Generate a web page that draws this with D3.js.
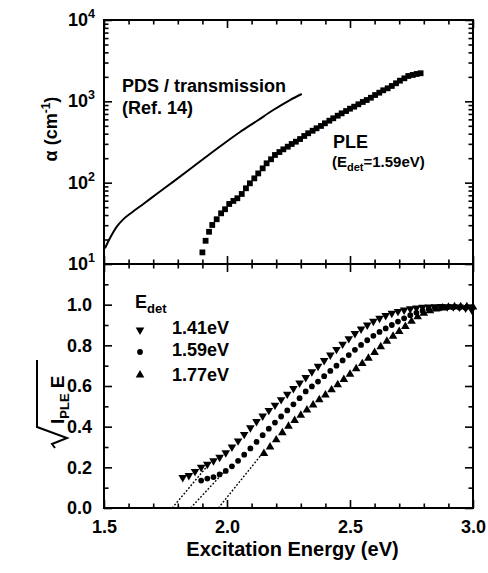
<!DOCTYPE html>
<html>
<head>
<meta charset="utf-8">
<script src="https://cdn.jsdelivr.net/npm/d3@7"></script>
<style>
  body { margin: 0; background: #fff; }
  text { font-family: "Liberation Sans", Arial, Helvetica, sans-serif; font-weight: bold; fill: #000; }
</style>
</head>
<body>
<svg id="chart" width="488" height="573"></svg>
<script>
// PDS / transmission (Ref. 14): [energy eV, alpha cm^-1]
const pdsCurve = [
  [1.504, 15.6], [1.524, 20.7], [1.552, 28.8], [1.578, 35.4], [1.613, 43],
  [1.66, 54.7], [1.714, 72.6], [1.782, 103], [1.85, 147], [1.917, 210],
  [1.985, 299], [2.053, 420], [2.121, 573], [2.188, 782], [2.256, 1038], [2.304, 1230]
];

// PLE absorption, E_det = 1.59 eV
const pleAlpha = [
  [1.900, 13.9], [1.913, 19.3], [1.927, 24.9], [1.940, 30.2], [1.958, 35.5], [1.976, 42.0],
  [1.992, 47.1], [2.009, 54.7], [2.026, 59.6], [2.042, 64.3], [2.060, 72.6], [2.077, 85.3],
  [2.093, 98.2], [2.111, 113], [2.127, 130], [2.145, 150], [2.161, 173], [2.179, 194],
  [2.195, 219], [2.213, 238], [2.229, 257], [2.247, 277], [2.263, 299], [2.280, 319],
  [2.297, 344], [2.314, 375], [2.330, 405], [2.348, 435], [2.364, 466], [2.382, 498],
  [2.398, 537], [2.416, 578], [2.432, 619], [2.450, 666], [2.466, 712], [2.484, 760],
  [2.500, 812], [2.517, 860], [2.534, 920], [2.552, 982], [2.568, 1038], [2.585, 1108],
  [2.602, 1196], [2.619, 1277], [2.635, 1367], [2.653, 1446], [2.670, 1545], [2.687, 1667],
  [2.703, 1795], [2.721, 1920], [2.737, 2050], [2.755, 2110], [2.771, 2170], [2.787, 2215]
];

// sqrt(I_PLE E) for three detection energies
const det141 = [
  [1.82, 0.150], [1.845, 0.160], [1.87, 0.180], [1.895, 0.200], [1.92, 0.215], [1.945, 0.232],
  [1.97, 0.250], [1.995, 0.272], [2.02, 0.300], [2.045, 0.330], [2.07, 0.362], [2.095, 0.395],
  [2.12, 0.425], [2.145, 0.452], [2.17, 0.480], [2.195, 0.506], [2.22, 0.533], [2.245, 0.560],
  [2.27, 0.588], [2.295, 0.615], [2.32, 0.642], [2.345, 0.670], [2.37, 0.697], [2.395, 0.725],
  [2.42, 0.752], [2.445, 0.780], [2.47, 0.806], [2.495, 0.833], [2.52, 0.858], [2.545, 0.880],
  [2.57, 0.900], [2.595, 0.918], [2.62, 0.933], [2.645, 0.947], [2.67, 0.958], [2.695, 0.967],
  [2.72, 0.974], [2.745, 0.980], [2.77, 0.984], [2.795, 0.987], [2.82, 0.989], [2.845, 0.990],
  [2.87, 0.991], [2.895, 0.990], [2.92, 0.990], [2.945, 0.988], [2.97, 0.984], [2.995, 0.975]
];
const det159 = [
  [1.895, 0.135], [1.92, 0.145], [1.945, 0.152], [1.97, 0.165], [1.995, 0.182], [2.02, 0.205],
  [2.045, 0.232], [2.07, 0.262], [2.095, 0.293], [2.12, 0.325], [2.145, 0.358], [2.17, 0.390],
  [2.195, 0.420], [2.22, 0.450], [2.245, 0.480], [2.27, 0.510], [2.295, 0.540], [2.32, 0.573],
  [2.345, 0.598], [2.37, 0.622], [2.395, 0.648], [2.42, 0.674], [2.445, 0.700], [2.47, 0.726],
  [2.495, 0.752], [2.52, 0.778], [2.545, 0.802], [2.57, 0.825], [2.595, 0.847], [2.62, 0.866],
  [2.645, 0.883], [2.67, 0.900], [2.695, 0.917], [2.72, 0.933], [2.745, 0.948], [2.77, 0.960],
  [2.795, 0.970], [2.82, 0.978], [2.845, 0.983], [2.87, 0.986], [2.895, 0.987], [2.92, 0.987],
  [2.945, 0.986], [2.97, 0.985], [2.995, 0.983]
];
const det177 = [
  [2.15, 0.268], [2.175, 0.300], [2.20, 0.335], [2.225, 0.370], [2.25, 0.402], [2.275, 0.430],
  [2.30, 0.456], [2.325, 0.482], [2.35, 0.507], [2.375, 0.532], [2.40, 0.556], [2.425, 0.581],
  [2.45, 0.606], [2.475, 0.632], [2.50, 0.658], [2.525, 0.685], [2.55, 0.710], [2.575, 0.737],
  [2.60, 0.765], [2.625, 0.793], [2.65, 0.820], [2.675, 0.845], [2.70, 0.868], [2.725, 0.893],
  [2.75, 0.918], [2.775, 0.940], [2.80, 0.958], [2.825, 0.970], [2.85, 0.978], [2.875, 0.984],
  [2.90, 0.988], [2.925, 0.990], [2.95, 0.990], [2.975, 0.990], [3.0, 0.988]
];

// linear extrapolations to the x axis (dotted)
const fitLines = [
  [[1.777, 0], [1.94, 0.235]],
  [[1.852, 0], [1.99, 0.18]],
  [[1.965, 0], [2.155, 0.285]]
];

const legendLabels = ['1.41eV', '1.59eV', '1.77eV'];
const xMajorTicks = [1.5, 2.0, 2.5, 3.0];
const xMinorTicks = [1.6, 1.7, 1.8, 1.9, 2.1, 2.2, 2.3, 2.4, 2.6, 2.7, 2.8, 2.9];
const yBotMajor = [0, 0.2, 0.4, 0.6, 0.8, 1.0];
const yBotMinor = [0.1, 0.3, 0.5, 0.7, 0.9, 1.1];
const yTopMajor = [10, 100, 1000, 10000];

const svg = d3.select('#chart');
const pLeft = 104, pRight = 473, pTop = 20, pMid = 264, pBottom = 508;

const x = d3.scaleLinear().domain([1.5, 3.0]).range([pLeft, pRight]);
const yTop = d3.scaleLog().domain([10, 10000]).range([pMid, pTop]);
const yBot = d3.scaleLinear().domain([0, 1.2]).range([pBottom, pMid]);
const yTopMinor = yTop.ticks().filter(v => !yTopMajor.includes(v));

function ticks(axisFn, scale, vals, size, transform) {
  svg.append('g')
    .attr('transform', transform)
    .call(axisFn(scale).tickValues(vals).tickSize(size).tickSizeOuter(0).tickFormat(''))
    .call(g => g.select('.domain').remove())
    .call(g => g.selectAll('line').attr('stroke', '#000').attr('stroke-width', 1.6));
}

// x ticks: top border, divider (both ways), bottom border (all inward)
[[d3.axisBottom, pTop], [d3.axisTop, pMid], [d3.axisBottom, pMid], [d3.axisTop, pBottom]].forEach(([fn, y]) => {
  ticks(fn, x, xMajorTicks, 8, `translate(0,${y})`);
  ticks(fn, x, xMinorTicks, 4.5, `translate(0,${y})`);
});
// y ticks, left and right, inward
ticks(d3.axisRight, yTop, yTopMajor, 8, `translate(${pLeft},0)`);
ticks(d3.axisRight, yTop, yTopMinor, 4.5, `translate(${pLeft},0)`);
ticks(d3.axisLeft, yTop, yTopMajor, 8, `translate(${pRight},0)`);
ticks(d3.axisLeft, yTop, yTopMinor, 4.5, `translate(${pRight},0)`);
ticks(d3.axisRight, yBot, yBotMajor, 8, `translate(${pLeft},0)`);
ticks(d3.axisRight, yBot, yBotMinor, 4.5, `translate(${pLeft},0)`);
ticks(d3.axisLeft, yBot, yBotMajor, 8, `translate(${pRight},0)`);
ticks(d3.axisLeft, yBot, yBotMinor, 4.5, `translate(${pRight},0)`);

// frames
svg.append('rect').attr('x', pLeft).attr('y', pTop).attr('width', pRight - pLeft).attr('height', pBottom - pTop)
  .attr('fill', 'none').attr('stroke', '#000').attr('stroke-width', 2);
svg.append('line').attr('x1', pLeft).attr('x2', pRight).attr('y1', pMid).attr('y2', pMid)
  .attr('stroke', '#000').attr('stroke-width', 2);

// tick labels
svg.append('g')
  .attr('transform', `translate(0,${pBottom})`)
  .call(d3.axisBottom(x).tickValues(xMajorTicks).tickSize(0).tickPadding(12).tickFormat(d3.format('.1f')))
  .call(g => g.select('.domain').remove())
  .call(g => g.selectAll('text').attr('font-size', 18).attr('font-family', null));

svg.append('g')
  .attr('transform', `translate(${pLeft},0)`)
  .call(d3.axisLeft(yBot).tickValues(yBotMajor).tickSize(0).tickPadding(12).tickFormat(d3.format('.1f')))
  .call(g => g.select('.domain').remove())
  .call(g => g.selectAll('text').attr('font-size', 18).attr('font-family', null));

yTopMajor.forEach(v => {
  const t = svg.append('text')
    .attr('x', pLeft - 9).attr('y', yTop(v) + 6)
    .attr('text-anchor', 'end').attr('font-size', 18);
  t.append('tspan').text('10');
  t.append('tspan').attr('dy', -8).attr('font-size', 12.5).text(Math.log10(v));
});

// axis titles
svg.append('text')
  .attr('x', (pLeft + pRight) / 2 + 4).attr('y', 556)
  .attr('text-anchor', 'middle').attr('font-size', 20)
  .text('Excitation Energy (eV)');

const aLab = svg.append('text')
  .attr('transform', 'translate(57,129) rotate(-90)')
  .attr('text-anchor', 'middle').attr('font-size', 18);
aLab.append('tspan').text('\u03b1 (cm');
aLab.append('tspan').attr('dy', -7).attr('font-size', 12).text('-1');
aLab.append('tspan').attr('dy', 7).text(')');

const sLab = svg.append('g').attr('transform', 'translate(64,400) rotate(-90)');
sLab.append('path')
  .attr('d', 'M-48,-9 L-44,-12 L-38,3 L-27,-27 L40,-27')
  .attr('fill', 'none').attr('stroke', '#000').attr('stroke-width', 2);
const sText = sLab.append('text').attr('x', -24).attr('y', 0).attr('font-size', 19);
sText.append('tspan').text('I');
sText.append('tspan').attr('dy', 5).attr('font-size', 13).text('PLE');
sText.append('tspan').attr('dy', -5).text(' E');

// top panel data
svg.append('path')
  .datum(pdsCurve)
  .attr('fill', 'none').attr('stroke', '#000').attr('stroke-width', 2)
  .attr('d', d3.line().x(d => x(d[0])).y(d => yTop(d[1])).curve(d3.curveMonotoneX));

svg.append('g').selectAll('rect')
  .data(pleAlpha)
  .enter()
  .append('rect')
  .attr('x', d => x(d[0]) - 2.9).attr('y', d => yTop(d[1]) - 2.9)
  .attr('width', 5.8).attr('height', 5.8).attr('fill', '#000');

svg.append('text').attr('x', 122).attr('y', 92).attr('font-size', 18).text('PDS / transmission');
svg.append('text').attr('x', 122).attr('y', 114).attr('font-size', 18).text('(Ref. 14)');
svg.append('text').attr('x', 333).attr('y', 148).attr('font-size', 18).text('PLE');
const edet = svg.append('text').attr('x', 332).attr('y', 167).attr('font-size', 15);
edet.append('tspan').text('(E');
edet.append('tspan').attr('dy', 4).attr('font-size', 11).text('det');
edet.append('tspan').attr('dy', -4).text('=1.59eV)');

// bottom panel data
fitLines.forEach(seg => {
  svg.append('line')
    .attr('x1', x(seg[0][0])).attr('y1', yBot(seg[0][1]))
    .attr('x2', x(seg[1][0])).attr('y2', yBot(seg[1][1]))
    .attr('stroke', '#000').attr('stroke-width', 1.4).attr('stroke-dasharray', '1.8,1.8');
});

const triUp = d3.symbol().type(d3.symbolTriangle).size(32);
const circ = d3.symbol().type(d3.symbolCircle).size(26);
const series = [
  { data: det141, sym: triUp, rot: 180 },
  { data: det159, sym: circ, rot: 0 },
  { data: det177, sym: triUp, rot: 0 }
];
series.forEach(s => {
  svg.append('g').selectAll('path')
    .data(s.data)
    .enter()
    .append('path')
    .attr('d', s.sym())
    .attr('fill', '#000')
    .attr('transform', d => `translate(${x(d[0])},${yBot(d[1])}) rotate(${s.rot})`);
});

// legend
const lt = svg.append('text').attr('x', 135).attr('y', 308).attr('font-size', 18);
lt.append('tspan').text('E');
lt.append('tspan').attr('dy', 5).attr('font-size', 13).text('det');
const legY = [330, 352, 375];
series.forEach((s, i) => {
  svg.append('path').attr('d', s.sym()).attr('fill', '#000')
    .attr('transform', `translate(140,${legY[i]}) rotate(${s.rot})`);
  svg.append('text').attr('x', 172).attr('y', legY[i] + 4 + (i === 2 ? 2 : 0))
    .attr('font-size', 18).text(legendLabels[i]);
});
</script>
</body>
</html>
